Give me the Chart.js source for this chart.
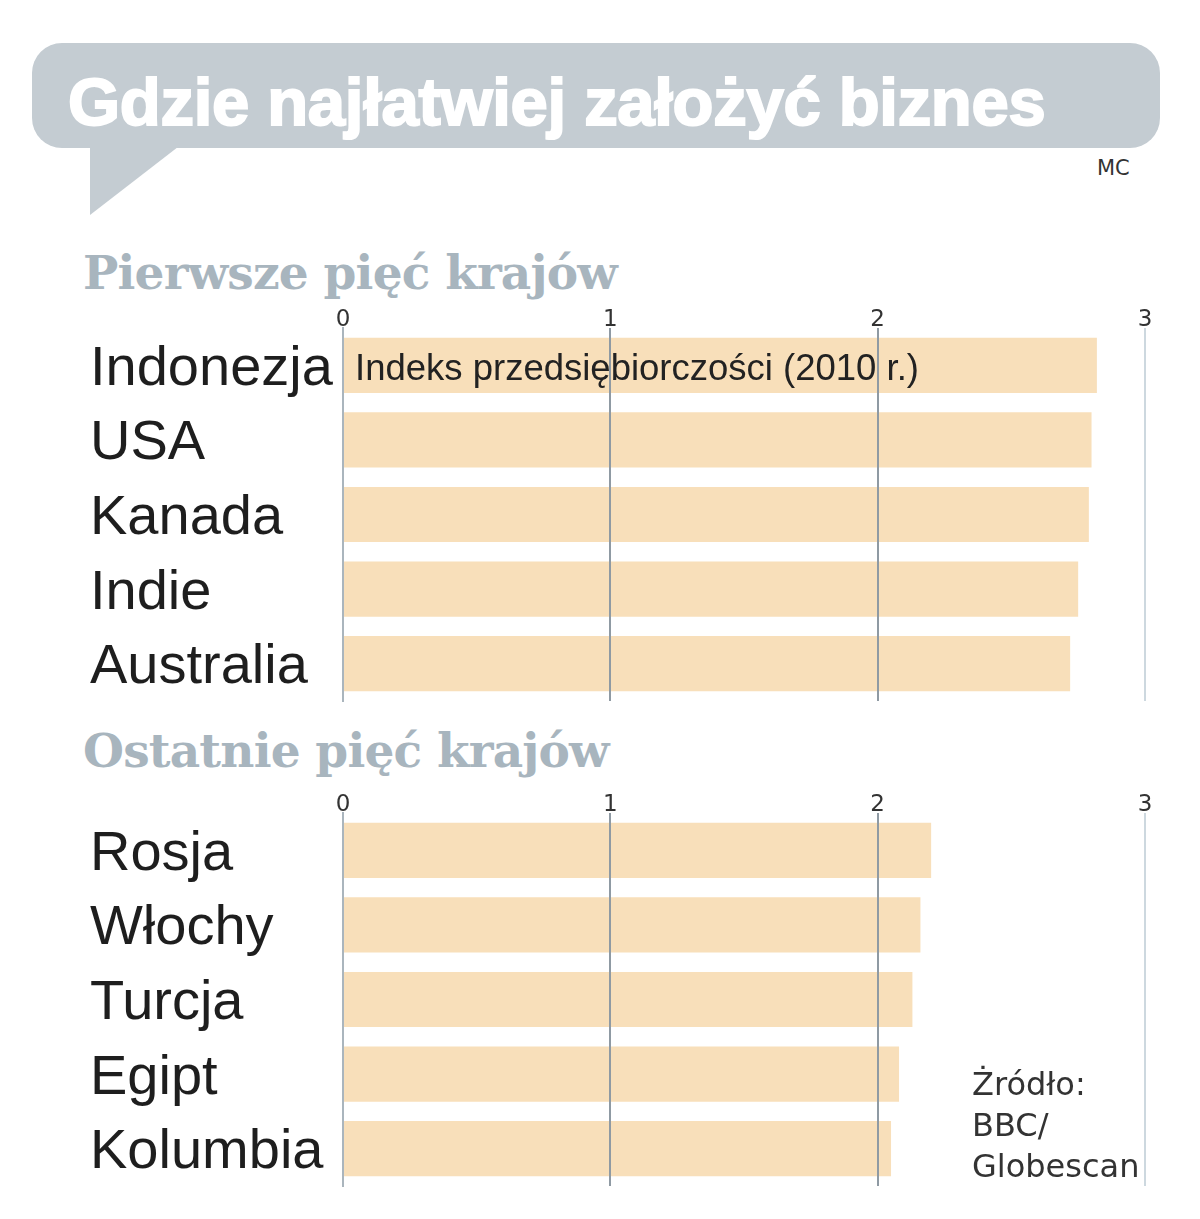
<!DOCTYPE html>
<html lang="pl">
<head>
<meta charset="utf-8">
<title>Gdzie najłatwiej założyć biznes</title>
<script src="https://cdn.jsdelivr.net/npm/chart.js@4/dist/chart.umd.min.js"></script>
<style>
  html, body { margin: 0; padding: 0; background: #fff; }
  #page { position: relative; width: 1200px; height: 1219px; overflow: hidden; }
  #bubble { position: absolute; left: 0; top: 0; }
  .title {
    position: absolute; left: 68px; top: 63px;
    font-family: "Liberation Sans", Arial, sans-serif; font-weight: bold;
    font-size: 67px; color: #fff; letter-spacing: -0.3px;
    -webkit-text-stroke: 2px #fff; white-space: nowrap;
  }
  .mc {
    position: absolute; left: 1097px; top: 156px;
    font-family: "DejaVu Sans", sans-serif; font-size: 21px; color: #333;
  }
  .section {
    position: absolute; left: 83px;
    font-family: "DejaVu Serif", serif; font-weight: bold;
    font-size: 47px; color: #a8b5be; letter-spacing: -0.8px; white-space: nowrap;
  }
  .note {
    position: absolute; left: 355px; top: 347px;
    font-family: "Liberation Sans", Arial, sans-serif; font-size: 36.5px; color: #222;
    white-space: nowrap;
  }
  .source {
    position: absolute; left: 972px; top: 1064px;
    font-family: "DejaVu Sans", sans-serif; font-size: 32px; line-height: 41px; color: #333;
  }
  canvas { position: absolute; left: 0; }
</style>
</head>
<body>
<div id="page">
  <svg id="bubble" width="1200" height="230">
    <rect x="32" y="43" width="1128" height="105" rx="30" ry="30" fill="#c4ccd2"></rect>
    <polygon points="90,140 187,140 90,215" fill="#c4ccd2"></polygon>
  </svg>
  <div class="title">Gdzie najłatwiej założyć biznes</div>
  <div class="mc">MC</div>

  <div class="section" style="top:245px">Pierwsze pięć krajów</div>
  <canvas id="topChart" width="1200" height="415" style="top:290px"></canvas>
  <div class="note">Indeks przedsiębiorczości (2010 r.)</div>

  <div class="section" style="top:723px">Ostatnie pięć krajów</div>
  <canvas id="bottomChart" width="1200" height="415" style="top:775px"></canvas>

  <div class="source">Żródło:<br>BBC/<br>Globescan</div>
</div>

<script>
// Data (entrepreneurship index, 2010)
var topCountries = ['Indonezja', 'USA', 'Kanada', 'Indie', 'Australia'];
var topValues = [2.82, 2.80, 2.79, 2.75, 2.72];

var bottomCountries = ['Rosja', 'Włochy', 'Turcja', 'Egipt', 'Kolumbia'];
var bottomValues = [2.20, 2.16, 2.13, 2.08, 2.05];

var tickValues = [0, 1, 2, 3];

var barColour = '#f8dfba';

// grid line colour depends on the value: 3 is pale, 0 matches the axis
var gridColour = function (ctx) {
  var v = ctx.tick ? ctx.tick.value : null;
  if (v === 3) return '#cdd8df';
  if (v === 0) return '#aab5bd';
  return '#8f9aa3';
};

var makeChart = function (id, labels, values) {
  return new Chart(document.getElementById(id), {
    type: 'bar',
    data: {
      labels: labels,
      datasets: [{
        data: values,
        backgroundColor: barColour,
        borderWidth: 0,
        categoryPercentage: 1,
        barPercentage: 0.74
      }]
    },
    options: {
      indexAxis: 'y',
      responsive: false,
      animation: false,
      devicePixelRatio: 1,
      layout: { padding: { left: 90, right: 55, top: 0, bottom: 4 } },
      plugins: { legend: { display: false }, tooltip: { enabled: false } },
      scales: {
        x: {
          position: 'top',
          min: tickValues[0],
          max: tickValues[tickValues.length - 1],
          afterBuildTicks: function (scale) {
            scale.ticks = tickValues.map(function (v) { return { value: v }; });
          },
          afterFit: function (scale) { scale.height = 38; },
          ticks: {
            padding: -6,
            color: '#333',
            font: { family: 'DejaVu Sans', size: 23 }
          },
          grid: { color: gridColour, lineWidth: 2, drawTicks: false, z: 1 },
          border: { display: false }
        },
        y: {
          // fixed label column; drop the extra room for the big labels
          afterFit: function (scale) {
            scale.width = 253;
            scale.paddingTop = 0;
            scale.paddingBottom = 0;
          },
          ticks: {
            autoSkip: false,
            crossAlign: 'far',
            labelOffset: 4,
            color: '#1e1e1e',
            font: { family: 'Liberation Sans', size: 56 }
          },
          grid: { display: false },
          border: { display: true, color: '#aab5bd', width: 2 }
        }
      }
    }
  });
};

makeChart('topChart', topCountries, topValues);
makeChart('bottomChart', bottomCountries, bottomValues);
</script>
</body>
</html>
